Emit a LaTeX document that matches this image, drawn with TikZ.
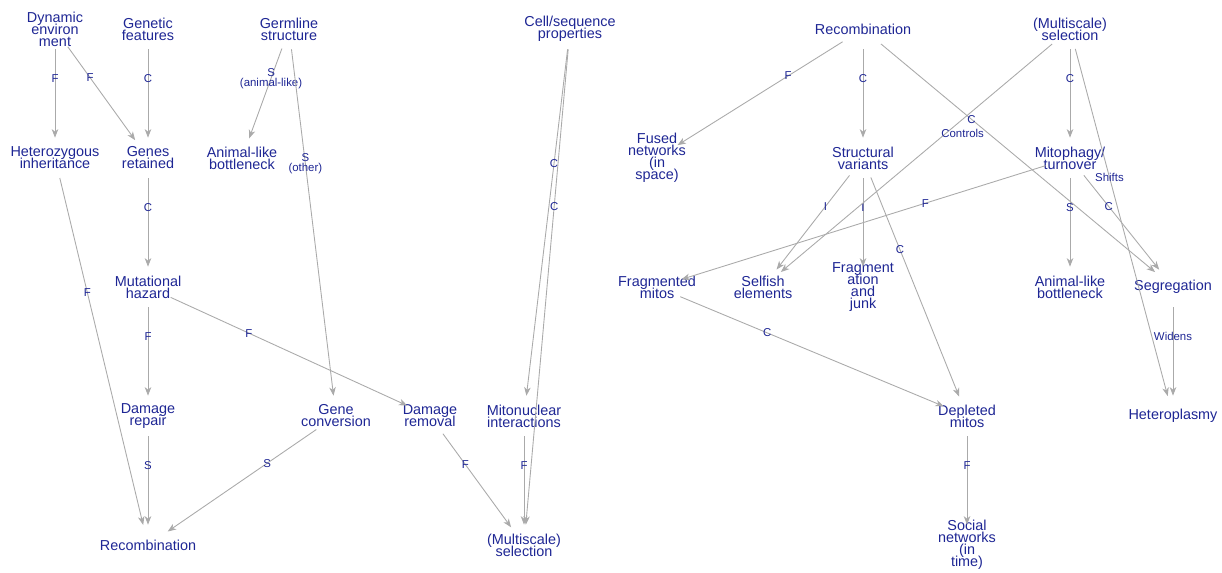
\documentclass[tikz,border=0pt]{standalone}
\usepackage{fontspec}
\setmainfont{Liberation Sans}
\usetikzlibrary{arrows.meta,shapes.geometric}
\definecolor{nodeblue}{RGB}{30,38,148}
\definecolor{edgegray}{RGB}{170,170,170}
\newcommand\vnamefont{\fontsize{8.2}{6.8}\selectfont\lineskiplimit=-20pt\relax}
\newcommand\weightfont{\fontsize{6.5}{5.7}\selectfont\lineskiplimit=-20pt\relax}
\tikzstyle{vertex}=[ellipse,minimum width=1.04cm,minimum height=0.8cm,inner sep=0pt]
\tikzstyle{vname}=[text=nodeblue,align=center,font=\vnamefont,inner sep=0pt]
\tikzstyle{edge} = [draw,edgegray,line width=0.5pt,-{Stealth[length=1.7mm,width=1.3mm,inset=0.5mm]}]
\tikzstyle{weight} = [text=nodeblue,align=center,font=\weightfont,inner sep=0pt,pos=0.33]

\begin{document}
\begin{tikzpicture}[x=0.02cm,y=-0.02cm]
    \useasboundingbox (0,0) rectangle (1222,572);
    % Left network
    % vertices first, text sits in the middle of each vertex
    \foreach \pos/\name/\txt in {{(55,29)/dynL/{Dynamic\\environ\\ment}},{(148,29)/genfL/{Genetic\\features}},
        {(289,29)/germL/{Germline\\structure}},{(570,29)/cellL/{Cell/sequence\\properties}},
        {(55,158)/hetL/{Heterozygous\\inheritance}},{(148,158)/genrL/{Genes\\retained}},
        {(242,158)/bottleL/{Animal-like\\bottleneck}},{(148,287)/mutL/{Mutational\\hazard}},
        {(148,416)/repL/{Damage\\repair}},{(336,416)/convL/{Gene\\conversion}},
        {(430,416)/remL/{Damage\\removal}},{(524,416)/mitoL/{Mitonuclear\\interactions}},
        {(148,545)/recombL/{Recombination}},{(524,545)/selL/{(Multiscale)\\selection}}}
        \node[vertex,label={[vname]center:\txt}] (\name) at \pos {};

    % edges with their labels
    \foreach \source/\dest/\weight in {dynL/hetL/F, dynL/genrL/F, genfL/genrL/C,
        germL/bottleL/{S\\(animal-like)}, germL/convL/{S\\(other)}, cellL/mitoL/C, cellL/selL/C,
        hetL/recombL/F, genrL/mutL/C, mutL/repL/F, mutL/remL/F, repL/recombL/S,
        convL/recombL/S, remL/selL/F, mitoL/selL/F}
        \path[edge] (\source) -- node[weight] {\weight} (\dest);

    % Right network
    \foreach \pos/\name/\txt in {{(863,29)/recombR/{Recombination}},{(1070,29)/selR/{(Multiscale)\\selection}},
        {(657,158)/fusedR/{Fused\\networks\\(in\\space)}},{(863,158)/structR/{Structural\\variants}},
        {(1070,158)/mitophR/{Mitophagy/\\turnover}},{(657,287)/fragmR/{Fragmented\\mitos}},
        {(763,287)/selfishR/{Selfish\\elements}},{(863,287)/fragjR/{Fragment\\ation\\and\\junk}},
        {(1070,287)/bottleR/{Animal-like\\bottleneck}},{(1173,287)/segrR/{Segregation}},
        {(967,416)/deplR/{Depleted\\mitos}},{(1173,416)/hetpR/{Heteroplasmy}},
        {(967,545)/socialR/{Social\\networks\\(in\\time)}}}
        \node[vertex,label={[vname]center:\txt}] (\name) at \pos {};

    \foreach \source/\dest/\weight in {recombR/fusedR/F, recombR/structR/C, recombR/segrR/C,
        selR/mitophR/C, structR/selfishR/I, structR/fragjR/I, structR/deplR/C,
        mitophR/fragmR/F, mitophR/bottleR/S, mitophR/segrR/C, fragmR/deplR/C,
        deplR/socialR/F, segrR/hetpR/Widens}
        \path[edge] (\source) -- node[weight] {\weight} (\dest);

    \path[edge] (selR) -- node[weight,yshift=-0.28cm] {Controls} (selfishR);
    \path[edge] (selR) -- node[weight,pos=0.37] {Shifts} (hetpR);

\end{tikzpicture}
\end{document}
